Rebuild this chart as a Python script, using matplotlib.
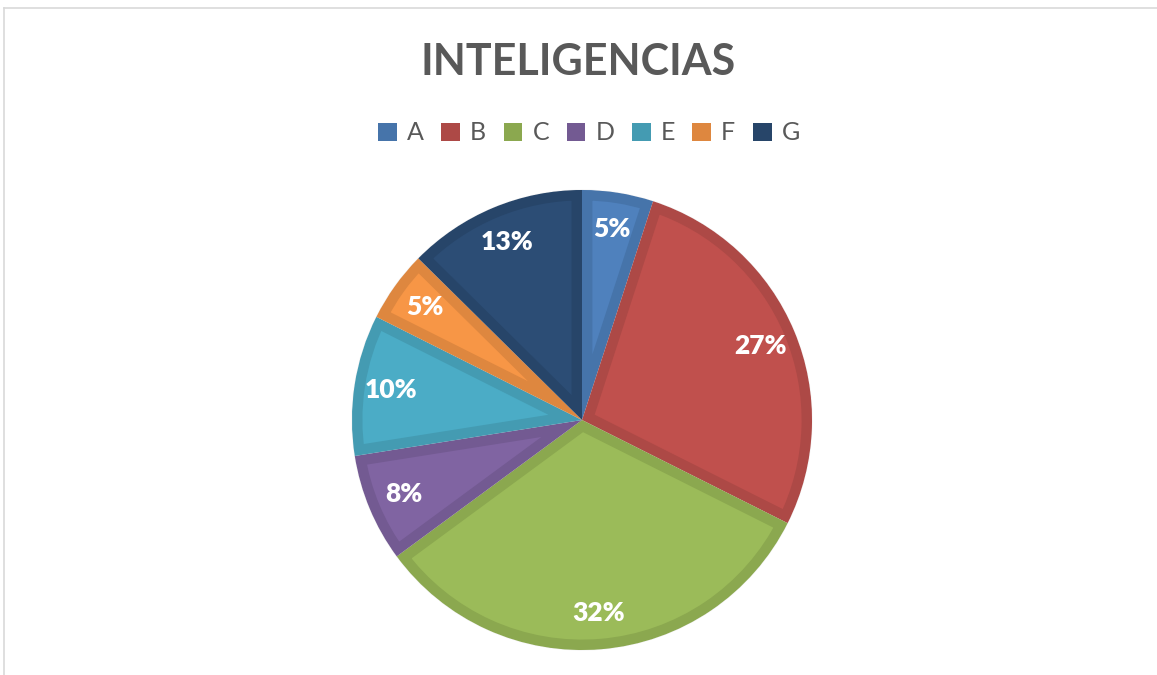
import matplotlib.pyplot as plt
import matplotlib.patches as mpatches
from matplotlib.lines import Line2D

labels = ["A", "B", "C", "D", "E", "F", "G"]
values = [5.0, 27.4, 32.5, 7.6, 9.9, 5.0, 12.6]
fills = ["#4F81BD", "#C0504D", "#9BBB59", "#8064A2", "#4BACC6", "#F79646", "#2C4D75"]
edges = ["#4674AA", "#AD4946", "#8BA84F", "#735A92", "#449BB2", "#DE873F", "#274569"]
title = "INTELIGENCIAS"

W, H = 1157, 675
fig = plt.figure(figsize=(W / 100, H / 100), dpi=100)

# frame lines (top and left visible)
fig.add_artist(Line2D([3.5 / W, 1.0], [1 - 7.5 / H, 1 - 7.5 / H], color="#D9D9D9", lw=1.2))
fig.add_artist(Line2D([3.5 / W, 3.5 / W], [0, 1 - 7.5 / H], color="#D9D9D9", lw=1.2))

cx, cy, r = 582, 420, 230
ax = fig.add_axes([(cx - r) / W, (H - cy - r) / H, 2 * r / W, 2 * r / H])

wedges, _, autotexts = ax.pie(values, colors=fills, startangle=90, counterclock=False,
                              autopct="%.0f%%", pctdistance=0.84,
                              wedgeprops=dict(edgecolor="none"),
                              textprops=dict(color="white", fontsize=19, fontweight="heavy",
                                             family="Lato"))
# darker inner band on each slice
for w, ec in zip(wedges, edges):
    band = mpatches.Wedge(w.center, w.r, w.theta1, w.theta2, facecolor="none",
                          edgecolor=ec, lw=15, transform=w.get_transform(), zorder=1.5)
    ax.add_patch(band)
    band.set_clip_path(w)
# thin light separators
ax.pie(values, colors=["none"] * len(values), startangle=90, counterclock=False,
       wedgeprops=dict(edgecolor="#F2F2F2", lw=0.8))
for t in autotexts:
    t.set_zorder(5)
ax.set_xlim(-1, 1)
ax.set_ylim(-1, 1)
ax.set_aspect("equal")
ax.axis("off")

fig.text(578 / W, 1 - 62 / H, title, ha="center", va="center", fontsize=31,
         fontweight="bold", color="#595959", family="Lato")

handles = [mpatches.Patch(facecolor=e, edgecolor="none") for e in edges]
fig.legend(handles, labels, loc="center", bbox_to_anchor=(589 / W, 1 - 133 / H), ncol=7,
           frameon=False, handlelength=0.75, handleheight=0.75, handletextpad=0.4,
           columnspacing=0.7, prop=dict(family="Lato", size=18), labelcolor="#595959")

fig.savefig("out.png", dpi=100)
